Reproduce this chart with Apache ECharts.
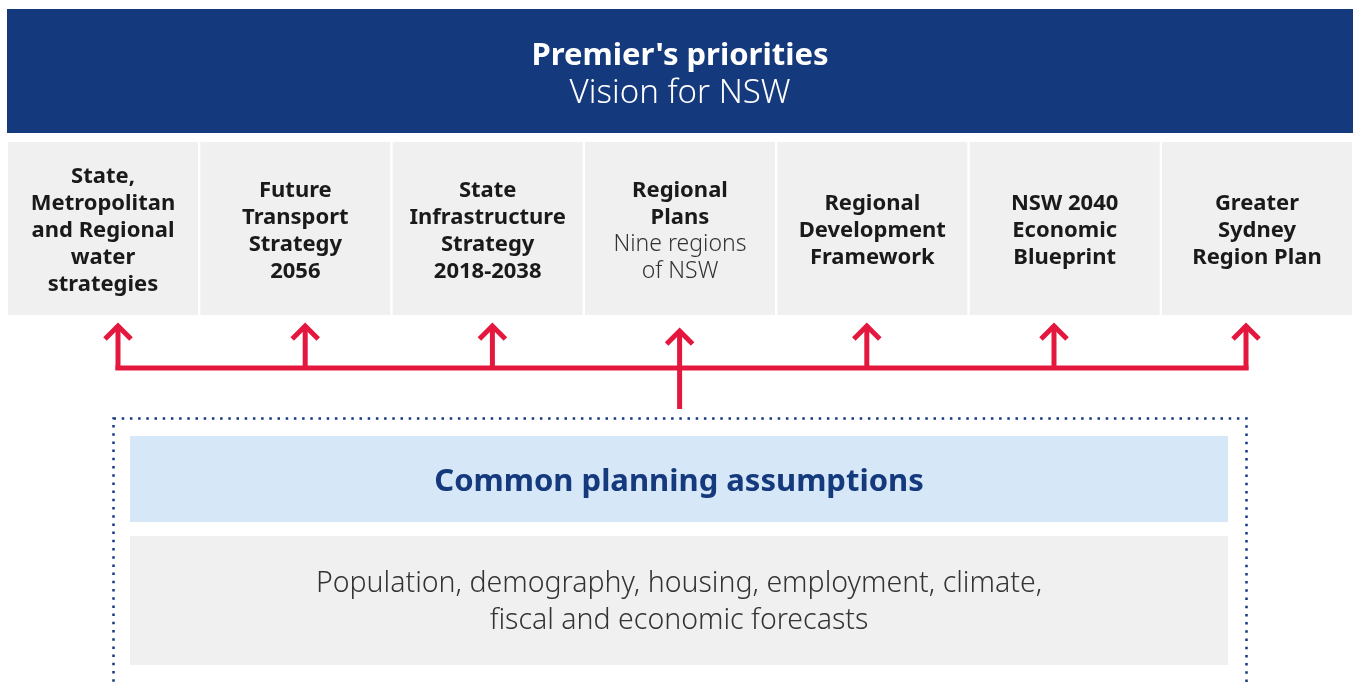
<!DOCTYPE html>
<html>
<head>
<meta charset="utf-8">
<script src="https://cdn.jsdelivr.net/npm/echarts@6/dist/echarts.min.js"></script>
<style>
  html, body { margin: 0; padding: 0; background: #fff; }
  #chart { width: 1359px; height: 682px; }
</style>
</head>
<body>
<div id="chart"></div>
<script>
// text content of the diagram
var bannerTitle = "Premier's priorities";
var bannerSubtitle = 'Vision for NSW';
var strategyTitles = [
  'State,\nMetropolitan\nand Regional\nwater\nstrategies',
  'Future\nTransport\nStrategy\n2056',
  'State\nInfrastructure\nStrategy\n2018-2038',
  'Regional\nPlans',
  'Regional\nDevelopment\nFramework',
  'NSW 2040\nEconomic\nBlueprint',
  'Greater\nSydney\nRegion Plan'
];
var strategyNotes = ['', '', '', 'Nine regions\nof NSW', '', '', ''];
var assumptionsTitle = 'Common planning assumptions';
var assumptionsText = [
  'Population, demography, housing, employment, climate,',
  'fiscal and economic forecasts'
];

var NAVY = '#15397d';
var GREY = '#f0f0f0';
var BLUE = '#d6e7f7';
var RED = '#e4183f';
var FONT = '"Noto Sans", sans-serif';

var chart = echarts.init(document.getElementById('chart'));

function box(api, x0, y0, x1, y1, fill) {
  var a = api.coord([x0, y0]), b = api.coord([x1, y1]);
  return {
    type: 'rect',
    shape: { x: a[0], y: a[1], width: b[0] - a[0], height: b[1] - a[1] },
    style: { fill: fill }
  };
}

function line(api, pts) {
  return {
    type: 'polyline',
    shape: { points: pts.map(function (p) { return api.coord(p); }) },
    style: { stroke: RED, lineWidth: 5, fill: null, lineJoin: 'miter' }
  };
}

// x of the arrow under column i
function arrowX(i) {
  return i === 6 ? 1246 : 118 + i * 187.2;
}

chart.setOption({
  animation: false,
  grid: { left: 0, right: 0, top: 0, bottom: 0 },
  xAxis: { type: 'value', min: 0, max: 1359, show: false },
  yAxis: { type: 'value', min: 0, max: 682, inverse: true, show: false },
  series: [
    {
      // banner
      type: 'custom',
      clip: false,
      data: [[0, 0]],
      renderItem: function (params, api) {
        var c = api.coord([680, 75]);
        return {
          type: 'group',
          children: [
            box(api, 7, 9, 1353, 133, NAVY),
            {
              type: 'text',
              style: {
                x: c[0], y: c[1],
                align: 'center', verticalAlign: 'middle',
                text: '{t|' + bannerTitle + '}\n{s|' + bannerSubtitle + '}',
                rich: {
                  t: { fontFamily: FONT, fontSize: 31, fontWeight: 'bold', fill: '#fff', lineHeight: 38, align: 'center' },
                  s: { fontFamily: FONT, fontSize: 33, fontWeight: 300, fill: '#fff', lineHeight: 38, align: 'center' }
                }
              }
            }
          ]
        };
      }
    },
    {
      // strategy columns
      type: 'custom',
      clip: false,
      data: strategyTitles.map(function (t, i) { return [i, 0]; }),
      renderItem: function (params, api) {
        var i = api.value(0);
        var x0 = 8 + i * 192.33;
        var c = api.coord([x0 + 95, 231]);
        var txt = '{t|' + strategyTitles[i] + '}';
        if (strategyNotes[i]) txt += '\n{s|' + strategyNotes[i] + '}';
        return {
          type: 'group',
          children: [
            box(api, x0, 142, x0 + 190, 315, GREY),
            {
              type: 'text',
              style: {
                x: c[0], y: c[1],
                align: 'center', verticalAlign: 'middle',
                text: txt,
                rich: {
                  t: { fontFamily: FONT, fontSize: 22, fontWeight: 'bold', fill: '#1a1a1a', lineHeight: 27, align: 'center' },
                  s: { fontFamily: FONT, fontSize: 23, fontWeight: 300, fill: '#333', lineHeight: 27, align: 'center' }
                }
              }
            }
          ]
        };
      }
    },
    {
      // arrows from the common assumptions up to each strategy
      type: 'custom',
      clip: false,
      data: strategyTitles.map(function (t, i) { return [i, 0]; }),
      renderItem: function (params, api) {
        var i = api.value(0);
        var x = arrowX(i);
        var center = i === 3;
        var tip = center ? 328 : 323;
        var kids = [
          line(api, [[x, tip + 2], [x, center ? 409 : 370]]),
          line(api, [[x - 13, tip + 16], [x, tip + 3], [x + 13, tip + 16]])
        ];
        if (i === 0) kids.push(line(api, [[x - 2.5, 368], [arrowX(6) + 2.5, 368]]));
        return { type: 'group', children: kids };
      }
    },
    {
      // common planning assumptions
      type: 'custom',
      clip: false,
      data: [[0, 0]],
      renderItem: function (params, api) {
        var a = api.coord([113.5, 418.5]), b = api.coord([1246.5, 684]);
        var t = api.coord([679, 482]);
        var s = api.coord([679, 602]);
        return {
          type: 'group',
          children: [
            {
              type: 'rect',
              shape: { x: a[0], y: a[1], width: b[0] - a[0], height: b[1] - a[1] },
              style: { fill: null, stroke: NAVY, lineWidth: 2.5, lineDash: [2.5, 5.7] }
            },
            box(api, 130, 436, 1228, 522, BLUE),
            box(api, 130, 536, 1228, 665, GREY),
            {
              type: 'text',
              style: {
                x: t[0], y: t[1], align: 'center', verticalAlign: 'middle',
                text: assumptionsTitle,
                fontFamily: FONT, fontSize: 31, fontWeight: 'bold', fill: NAVY
              }
            },
            {
              type: 'text',
              style: {
                x: s[0], y: s[1], align: 'center', verticalAlign: 'middle',
                text: assumptionsText.join('\n'),
                fontFamily: FONT, fontSize: 28.5, fontWeight: 300, fill: '#333',
                lineHeight: 37
              }
            }
          ]
        };
      }
    }
  ]
});
</script>
</body>
</html>
